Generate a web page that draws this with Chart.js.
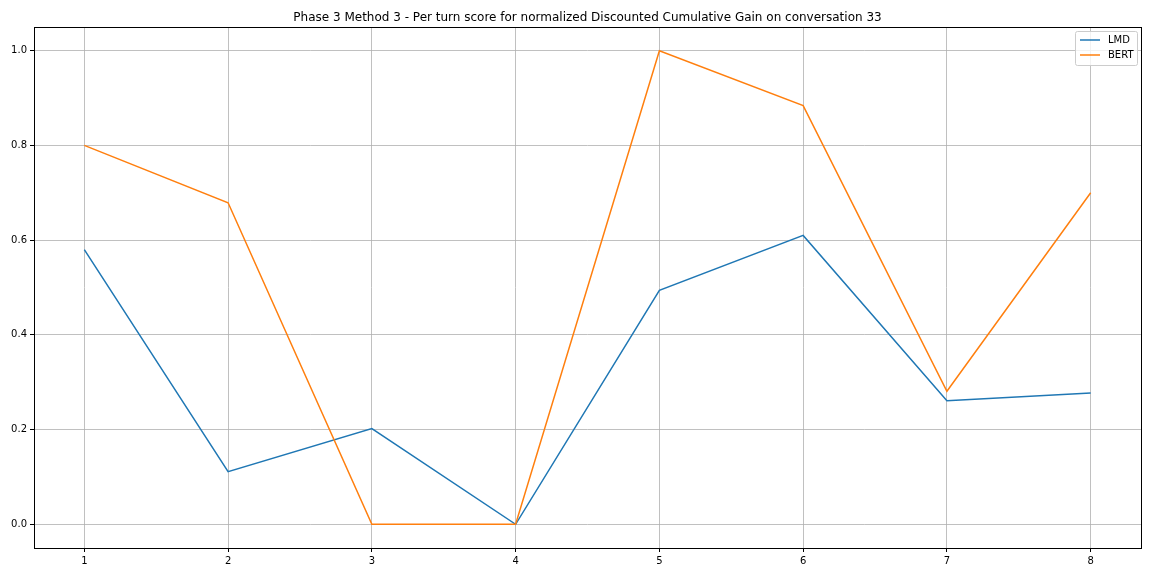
<!DOCTYPE html>
<html>
<head>
<meta charset="utf-8">
<script src="https://cdn.jsdelivr.net/npm/chart.js@4/dist/chart.umd.min.js"></script>
<style>
html,body{margin:0;padding:0;background:#fff;}
#wrap{width:1152px;height:576px;position:relative;}
</style>
</head>
<body>
<div id="wrap"><canvas id="c" width="1152" height="576"></canvas></div>
<script>
const turns = [1, 2, 3, 4, 5, 6, 7, 8];
const lmdScores = [0.58, 0.111, 0.202, 0.0, 0.494, 0.610, 0.261, 0.277];
const bertScores = [0.80, 0.679, 0.0, 0.0, 1.0, 0.884, 0.281, 0.70];
const yTicks = [0.0, 0.2, 0.4, 0.6, 0.8, 1.0];
const titleText = 'Phase 3 Method 3 - Per turn score for normalized Discounted Cumulative Gain on conversation 33';
const FONT = '"DejaVu Sans", sans-serif';

const framePlugin = {
  id: 'frame',
  afterDatasetsDraw(chart) {
    const {ctx, chartArea: a} = chart;
    ctx.save();
    ctx.strokeStyle = '#000';
    ctx.lineWidth = 1;
    const l = Math.round(a.left) + 0.5, r = Math.round(a.right) + 0.5;
    const t = Math.round(a.top) + 0.5, b = Math.round(a.bottom) + 0.5;
    ctx.strokeRect(l, t, r - l, b - t);
    // title
    ctx.fillStyle = '#000';
    ctx.font = '12px ' + FONT;
    ctx.textAlign = 'center';
    ctx.textBaseline = 'alphabetic';
    ctx.fillText(titleText, (a.left + a.right) / 2, 21);
    // legend
    const bx = 1075.5, by = 31.5, bw = 62, bh = 34;
    ctx.fillStyle = 'rgba(255,255,255,0.8)';
    ctx.strokeStyle = '#cccccc';
    ctx.lineWidth = 1;
    ctx.beginPath();
    if (ctx.roundRect) ctx.roundRect(bx, by, bw, bh, 2); else ctx.rect(bx, by, bw, bh);
    ctx.fill(); ctx.stroke();
    ctx.font = '10px ' + FONT;
    ctx.textAlign = 'left';
    ctx.textBaseline = 'middle';
    chart.data.datasets.forEach((ds, i) => {
      const y = 40 + i * 15;
      ctx.strokeStyle = ds.borderColor;
      ctx.lineWidth = 1.5;
      ctx.beginPath();
      ctx.moveTo(1080, y); ctx.lineTo(1100, y); ctx.stroke();
      ctx.fillStyle = '#000';
      ctx.fillText(ds.label, 1108, y);
    });
    ctx.restore();
  }
};

new Chart(document.getElementById('c'), {
  type: 'line',
  data: {
    datasets: [
      { label: 'LMD', order: 1, data: turns.map((t, i) => ({x: t, y: lmdScores[i]})), borderColor: '#1f77b4', backgroundColor: '#1f77b4', borderWidth: 1.5, pointRadius: 0, tension: 0, fill: false },
      { label: 'BERT', order: 0, data: turns.map((t, i) => ({x: t, y: bertScores[i]})), borderColor: '#ff7f0e', backgroundColor: '#ff7f0e', borderWidth: 1.5, pointRadius: 0, tension: 0, fill: false }
    ]
  },
  options: {
    responsive: false,
    animation: false,
    devicePixelRatio: 1,
    layout: { padding: { top: 27, right: 11, bottom: 0, left: 0 } },
    plugins: { legend: { display: false }, title: { display: false }, tooltip: { enabled: false } },
    scales: {
      x: {
        type: 'linear', min: 0.65, max: 8.35,
        afterBuildTicks(s) { s.ticks = turns.map(v => ({value: v})); },
        afterFit(s) { s.height = 28; },
        grid: { color: '#b0b0b0', lineWidth: 0.8, drawTicks: true, tickLength: 4, tickColor: '#000', tickWidth: 1 },
        border: { display: false },
        ticks: { color: '#000', font: { family: FONT, size: 10 }, padding: 3, maxRotation: 0, callback: v => String(v) }
      },
      y: {
        min: -0.05, max: 1.05,
        afterBuildTicks(s) { s.ticks = yTicks.map(v => ({value: v})); },
        afterFit(s) { s.width = 34; },
        grid: { color: '#b0b0b0', lineWidth: 0.8, drawTicks: true, tickLength: 4, tickColor: '#000', tickWidth: 1 },
        border: { display: false },
        ticks: { color: '#000', font: { family: FONT, size: 10 }, padding: 3, callback: v => Number(v).toFixed(1) }
      }
    }
  },
  plugins: [framePlugin]
});
</script>
</body>
</html>
